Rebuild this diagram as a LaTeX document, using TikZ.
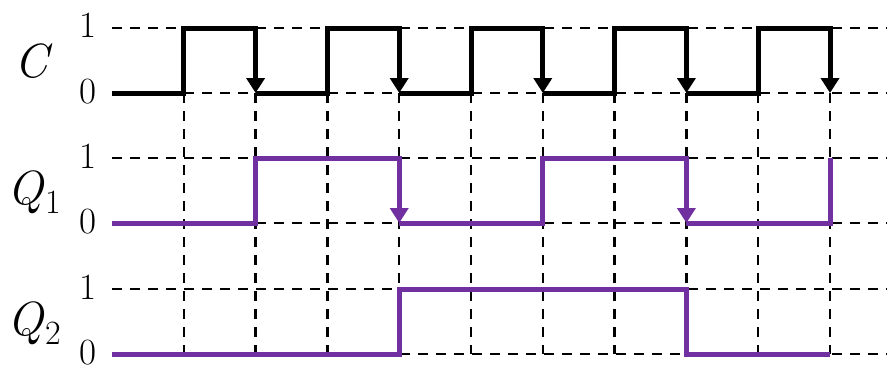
\documentclass[tikz,border=0pt]{standalone}
\usetikzlibrary{arrows.meta}
\definecolor{wavepurple}{HTML}{7030A0}
\newcommand{\sublabel}[2]{\textit{#1}\kern1pt\raisebox{-9pt}{\fontsize{34}{36}\selectfont #2}}
\begin{document}
\begin{tikzpicture}[x=1pt,y=-1pt,
  gridline/.style={black, line width=2.3pt, dash pattern=on 10pt off 8pt},
  clk/.style={black, line width=5pt},
  sig/.style={wavepurple, line width=5pt},
  falledge/.style={-{Triangle[width=18pt,length=15pt]}},
  lvl/.style={font=\fontsize{37}{40}\selectfont, anchor=base, inner sep=0pt},
  var/.style={font=\fontsize{48}{50}\selectfont, inner sep=0pt}]
\useasboundingbox (0,0) rectangle (890,370);
% columns and rows
\foreach \k in {0,...,10} \coordinate (x\k) at ({112+71.8*\k},0);
\coordinate (xr) at (887,0);
\coordinate (c1) at (0,28);  \coordinate (c0) at (0,93);
\coordinate (a1) at (0,158); \coordinate (a0) at (0,223);
\coordinate (b1) at (0,289); \coordinate (b0) at (0,354);
% grid
\foreach \r in {c1,c0,a1,a0,b1,b0} \draw[gridline] (x0|-\r) -- (xr|-\r);
\foreach \k in {1,...,10} \draw[gridline] (x\k|-c0) -- (x\k|-b0);
% labels
\node[var] (lc) at (34,61) {\textit{C}};
\node[var] (lq1) at (34,192) {\sublabel{Q}{1}};
\node[var] (lq2) at (34,323) {\sublabel{Q}{2}};
\node[lvl] (c1l) at (88,37) {1};
\node[lvl] (c0l) at (88,103) {0};
\node[lvl] (a1l) at (88,168) {1};
\node[lvl] (a0l) at (88,233) {0};
\node[lvl] (b1l) at (88,299) {1};
\node[lvl] (b0l) at (88,364) {0};
% clock
\draw[clk,falledge] (x0|-c0) -- (x1|-c0) -- (x1|-c1) -- (x2|-c1) -- (x2|-c0);
\draw[clk,falledge] (x2|-c0) -- (x3|-c0) -- (x3|-c1) -- (x4|-c1) -- (x4|-c0);
\draw[clk,falledge] (x4|-c0) -- (x5|-c0) -- (x5|-c1) -- (x6|-c1) -- (x6|-c0);
\draw[clk,falledge] (x6|-c0) -- (x7|-c0) -- (x7|-c1) -- (x8|-c1) -- (x8|-c0);
\draw[clk,falledge] (x8|-c0) -- (x9|-c0) -- (x9|-c1) -- (x10|-c1) -- (x10|-c0);
% Q1
\draw[sig,falledge] (x0|-a0) -- (x2|-a0) -- (x2|-a1) -- (x4|-a1) -- (x4|-a0);
\draw[sig,falledge] (x4|-a0) -- (x6|-a0) -- (x6|-a1) -- (x8|-a1) -- (x8|-a0);
\draw[sig] (x8|-a0) -- (x10|-a0) -- (x10|-a1);
% Q2
\draw[sig] (x0|-b0) -- (x4|-b0) -- (x4|-b1) -- (x8|-b1) -- (x8|-b0) -- (x10|-b0);
\end{tikzpicture}
\end{document}
